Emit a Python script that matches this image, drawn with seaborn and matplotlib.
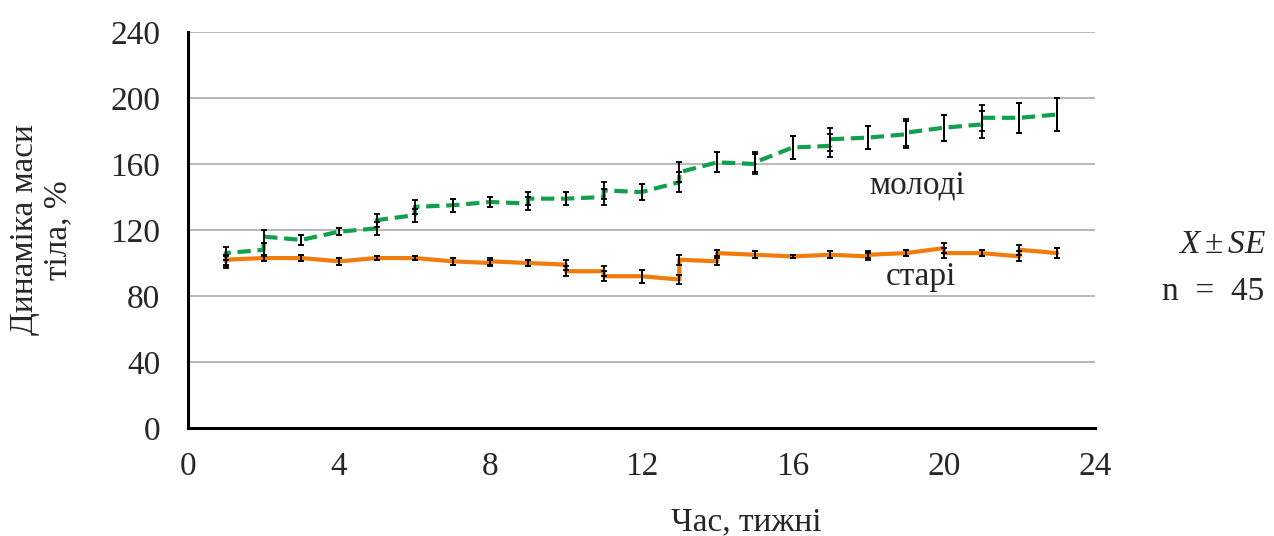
import numpy as np
import pandas as pd
import matplotlib
matplotlib.use("Agg")
import matplotlib.pyplot as plt
import seaborn as sns

weeks = list(range(1, 24))
# value at arrival to the week and after the week's jump
young_in  = [101, 108, 114, 119, 121, 129, 135, 137, 136, 139, 140, 143, 149, 161, 160, 170, 171, 176, 178, 182, 184, 188, 190]
young_out = [106, 116, 114, 119, 126, 134, 135, 137, 139, 139, 144, 143, 155, 161, 161, 170, 175, 176, 179, 182, 188, 188, 190]
young_se  = [4, 4, 3, 2, 4, 4, 4, 3, 4, 4, 5, 5, 6, 6, 6, 7, 7, 7, 8, 8, 8, 9, 10]
old_in    = [101, 103, 103, 101, 103, 103, 101, 100, 100, 99, 95, 92, 90, 101, 105, 104, 105, 104, 106, 109, 106, 104, 106]
old_out   = [102, 103, 103, 101, 103, 103, 101, 101, 100, 95, 92, 92, 102, 106, 105, 104, 105, 105, 106, 106, 106, 108, 106]
old_se    = [3, 2, 2, 2, 1, 1, 2, 2, 2, 3, 3, 4, 3, 2, 2, 1, 2, 2, 2, 3, 2, 3, 3]

groups = ["молоді", "старі"]
x_ticks = [0, 4, 8, 12, 16, 20, 24]
y_ticks = [0, 40, 80, 120, 160, 200, 240]

rows = []
for g, vin, vout, se in [(groups[0], young_in, young_out, young_se),
                         (groups[1], old_in, old_out, old_se)]:
    for w, a, b, s in zip(weeks, vin, vout, se):
        rows.append((g, w, a, s))
        rows.append((g, w, b, s))
df = pd.DataFrame(rows, columns=["group", "week", "value", "se"])

sns.set_style("white")
plt.rcParams["font.family"] = ["Liberation Serif", "DejaVu Serif"]
plt.rcParams["mathtext.fontset"] = "custom"
plt.rcParams["mathtext.it"] = "Liberation Serif:italic"
plt.rcParams["mathtext.rm"] = "Liberation Serif"

FS = 24

fig = plt.figure(figsize=(12.74, 5.36), dpi=100)
ax = fig.add_axes([188/1274, 1 - 428/536, 907/1274, 396/536])

colors = {"молоді": "#13A04C", "старі": "#F07C0E"}
for y in y_ticks[1:]:
    ax.axhline(y, color="#a6a6a6", lw=1.1, zorder=0)

for g in groups:
    sub = df[df.group == g]
    ax.errorbar(sub.week, sub.value, yerr=sub.se, fmt="none", ecolor="black",
                elinewidth=1.3, capsize=2.5, capthick=1.3, zorder=3)

sns.lineplot(data=df, x="week", y="value", hue="group", style="group",
             palette=colors, dashes={"молоді": (3.2, 1.6), "старі": ""},
             sort=False, estimator=None, units="group", lw=3, ax=ax,
             legend=False, zorder=2)

ax.set_xlim(0, 24)
ax.set_ylim(0, 240)
ax.set_xticks(x_ticks)
ax.set_yticks(y_ticks)
ax.tick_params(axis="both", labelsize=FS, color="black", width=1.8)
ax.tick_params(axis="y", direction="inout", length=10, pad=15)
ax.tick_params(axis="x", direction="out", length=6, pad=11)
for s in ["top", "right"]:
    ax.spines[s].set_visible(False)
for s in ["left", "bottom"]:
    ax.spines[s].set_color("black")
    ax.spines[s].set_linewidth(2.2)

ax.set_xlabel("Час, тижні", fontsize=FS)
ax.xaxis.set_label_coords(0.615, -0.200)
ax.set_ylabel("Динаміка маси\nтіла, %", fontsize=FS, linespacing=1.15)
ax.yaxis.set_label_coords(-0.126, 0.5)

ax.text(19.3, 147, "молоді", fontsize=FS, ha="center", va="center")
ax.text(19.4, 91.5, "старі", fontsize=FS, ha="center", va="center")

fig.text(1222/1274, 1 - 245/536, r"$X \pm SE$", fontsize=FS, ha="center", va="center")
fig.text(1213/1274, 1 - 292/536, "n  =  45", fontsize=FS, ha="center", va="center")

fig.savefig("out.png", dpi=100)
